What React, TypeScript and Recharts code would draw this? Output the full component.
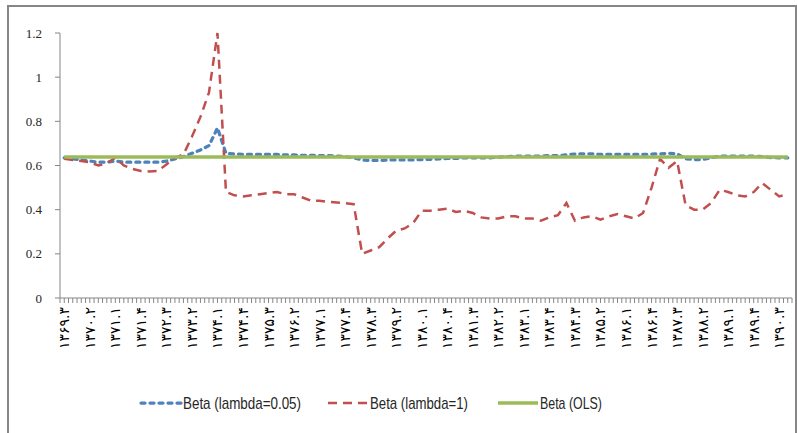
import React from 'react';
import { LineChart, Line, XAxis, YAxis } from 'recharts';

const quarters = [
  '1369.3', '1369.4',
  '1370.1', '1370.2', '1370.3', '1370.4',
  '1371.1', '1371.2', '1371.3', '1371.4',
  '1372.1', '1372.2', '1372.3', '1372.4',
  '1373.1', '1373.2', '1373.3', '1373.4',
  '1374.1', '1374.2', '1374.3', '1374.4',
  '1375.1', '1375.2', '1375.3', '1375.4',
  '1376.1', '1376.2', '1376.3', '1376.4',
  '1377.1', '1377.2', '1377.3', '1377.4',
  '1378.1', '1378.2', '1378.3', '1378.4',
  '1379.1', '1379.2', '1379.3', '1379.4',
  '1380.1', '1380.2', '1380.3', '1380.4',
  '1381.1', '1381.2', '1381.3', '1381.4',
  '1382.1', '1382.2', '1382.3', '1382.4',
  '1383.1', '1383.2', '1383.3', '1383.4',
  '1384.1', '1384.2', '1384.3', '1384.4',
  '1385.1', '1385.2', '1385.3', '1385.4',
  '1386.1', '1386.2', '1386.3', '1386.4',
  '1387.1', '1387.2', '1387.3', '1387.4',
  '1388.1', '1388.2', '1388.3', '1388.4',
  '1389.1', '1389.2', '1389.3', '1389.4',
  '1390.1', '1390.2', '1390.3', '1390.4',
];

const betaLambda005 = [
  0.635, 0.63, 0.625, 0.62, 0.615, 0.615, 0.62, 0.615, 0.615, 0.615,
  0.615, 0.615, 0.62, 0.63, 0.64, 0.655, 0.67, 0.69, 0.77, 0.655,
  0.652, 0.65, 0.65, 0.65, 0.65, 0.65, 0.648, 0.648, 0.646, 0.646,
  0.645, 0.645, 0.643, 0.64, 0.635, 0.625, 0.623, 0.623, 0.625, 0.625,
  0.625, 0.625, 0.627, 0.628, 0.63, 0.632, 0.632, 0.635, 0.635, 0.635,
  0.635, 0.638, 0.64, 0.642, 0.642, 0.643, 0.643, 0.645, 0.645, 0.648,
  0.652, 0.653, 0.653, 0.65, 0.65, 0.65, 0.65, 0.65, 0.65, 0.652,
  0.653, 0.655, 0.653, 0.63, 0.627, 0.627, 0.635, 0.642, 0.643, 0.643,
  0.643, 0.643, 0.64, 0.636, 0.635, 0.635,
];

const betaLambda1 = [
  0.63, 0.625, 0.62, 0.615, 0.6, 0.61, 0.635, 0.6, 0.585, 0.575,
  0.573, 0.575, 0.605, 0.635, 0.65, 0.73, 0.82, 0.93, 1.2, 0.48,
  0.465, 0.46, 0.465, 0.47, 0.475, 0.48, 0.47, 0.47, 0.455, 0.44,
  0.44, 0.435, 0.433, 0.43, 0.425, 0.2, 0.215, 0.23, 0.27, 0.305,
  0.315, 0.34, 0.395, 0.395, 0.4, 0.405, 0.39, 0.395, 0.385, 0.365,
  0.36, 0.36, 0.37, 0.37, 0.36, 0.36, 0.35, 0.365, 0.375, 0.43,
  0.35, 0.365, 0.37, 0.355, 0.37, 0.38, 0.37, 0.36, 0.385, 0.5,
  0.63, 0.59, 0.62, 0.42, 0.4, 0.4, 0.43, 0.49, 0.48, 0.465,
  0.46, 0.48, 0.52, 0.49, 0.46, 0.47,
];

const betaOLS = 0.638;

const yTicks = [0, 0.2, 0.4, 0.6, 0.8, 1, 1.2];

const seriesNames = ['Beta (lambda=0.05)', 'Beta (lambda=1)', 'Beta (OLS)'];
const colors = ['#4f81bd', '#c0504d', '#9bbb59'];

const LABEL_EVERY = 3;

const data = quarters.map((q, i) => ({
  q,
  b005: betaLambda005[i],
  b1: betaLambda1[i],
  ols: betaOLS,
}));

const W = 797;
const H = 433;
const MARGIN = { top: 33, right: 5, left: 0, bottom: 65 };
const Y_AXIS_W = 60;
const PLOT_W = W - MARGIN.left - MARGIN.right - Y_AXIS_W;
const BW = PLOT_W / quarters.length;

const PERSIAN = ['۰', '۱', '۲', '۳', '۴', '۵', '۶', '۷', '۸', '۹'];
const toPersian = (s: string) =>
  s.replace(/[0-9]/g, (d) => PERSIAN[Number(d)]);

const AXIS_COLOR = '#868686';

const XTick = (props: any) => {
  const { x, y, payload, index } = props;
  const half = BW / 2;
  const marks = [x - half, x];
  if (index === quarters.length - 1) marks.push(x + half);
  return (
    <g>
      {marks.map((mx, k) => (
        <line key={k} x1={mx} x2={mx} y1={y} y2={y + 5} stroke={AXIS_COLOR} strokeWidth={1} />
      ))}
      {index % LABEL_EVERY === 0 && (
        <text
          transform={`translate(${x}, ${y + 9}) rotate(-90)`}
          textAnchor="end"
          dominantBaseline="central"
          fontFamily="DejaVu Sans"
          fontSize={14}
          letterSpacing={3}
          fill="#000"
        >
          {toPersian(payload.value)}
        </text>
      )}
    </g>
  );
};

const LegendItem = ({ color, dash, width, cap, label, left, textW }: any) => (
  <svg
    width={44 + textW + 4}
    height={26}
    style={{ position: 'absolute', left, top: 0, display: 'block', overflow: 'visible' }}
  >
    <line x1={1} x2={41} y1={12} y2={12} stroke={color} strokeWidth={width} strokeDasharray={dash} strokeLinecap={cap} />
    <text
      x={43}
      y={18}
      fontFamily='"Liberation Sans", Arial, sans-serif'
      fontSize={17}
      fill="#262626"
      textLength={textW}
      lengthAdjust="spacingAndGlyphs"
    >
      {label}
    </text>
  </svg>
);

export default function App() {
  return (
    <div style={{ position: 'absolute', left: 0, top: 0, width: W, height: H, background: '#fff', overflow: 'hidden' }}>
      <div
        style={{
          position: 'absolute',
          left: 7,
          top: 5,
          width: 786,
          height: 440,
          border: '2px solid #868686',
        }}
      />
      <div style={{ position: 'absolute', left: 0, top: 0 }}>
        <LineChart width={W} height={H} data={data} margin={MARGIN}>
          <XAxis
            dataKey="q"
            scale="band"
            interval={0}
            tickLine={false}
            tickSize={0}
            tickMargin={0}
            height={70}
            axisLine={{ stroke: AXIS_COLOR, strokeWidth: 1 }}
            tick={<XTick />}
          />
          <YAxis
            width={Y_AXIS_W}
            domain={[0, 1.2]}
            ticks={yTicks}
            interval={0}
            tickSize={5}
            tickMargin={13}
            axisLine={{ stroke: AXIS_COLOR, strokeWidth: 1 }}
            tickLine={{ stroke: AXIS_COLOR, strokeWidth: 1 }}
            tickFormatter={(v: number) => String(v)}
            tick={{ fontFamily: '"Liberation Serif", serif', fontSize: 13, fill: '#262626' }}
          />
          <Line
            dataKey="b005"
            name={seriesNames[0]}
            stroke={colors[0]}
            strokeWidth={3.25}
            strokeDasharray="4 5"
            strokeLinecap="round"
            dot={false}
            isAnimationActive={false}
          />
          <Line
            dataKey="b1"
            name={seriesNames[1]}
            stroke={colors[1]}
            strokeWidth={2.5}
            strokeDasharray="9 6"
            dot={false}
            isAnimationActive={false}
          />
          <Line
            dataKey="ols"
            name={seriesNames[2]}
            stroke={colors[2]}
            strokeWidth={3.5}
            dot={false}
            isAnimationActive={false}
          />
        </LineChart>
      </div>
      <div style={{ position: 'absolute', left: 0, top: 391, width: W, height: 26 }}>
        <LegendItem left={140} textW={118} color={colors[0]} dash="4 5" width={3.25} cap="round" label={seriesNames[0]} />
        <LegendItem left={327} textW={98} color={colors[1]} dash="9 6" width={2.5} cap="butt" label={seriesNames[1]} />
        <LegendItem left={497} textW={62} color={colors[2]} width={3.5} cap="butt" label={seriesNames[2]} />
      </div>
    </div>
  );
}
